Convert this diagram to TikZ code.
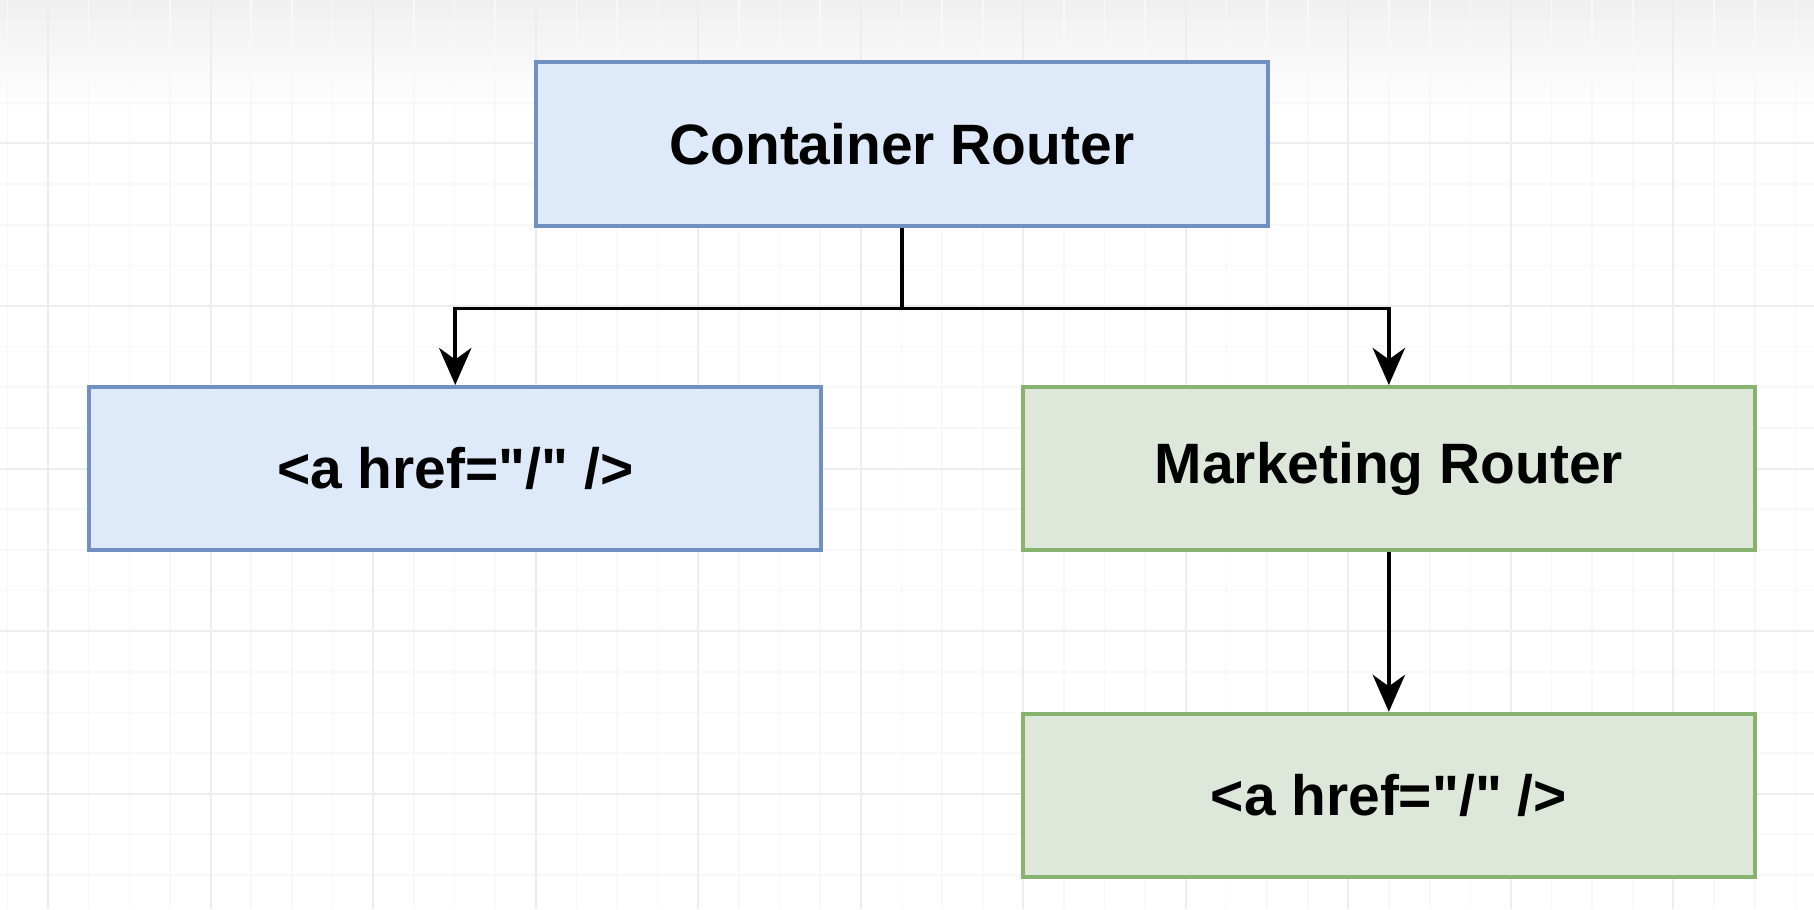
\documentclass[tikz,border=0pt]{standalone}
\usepackage{fontspec}
\setmainfont{Liberation Sans}[Ligatures=TeXOff]
\usetikzlibrary{arrows.meta,positioning}
\definecolor{blueFill}{HTML}{DEE9FA}
\definecolor{blueLine}{HTML}{7090C2}
\definecolor{greenFill}{HTML}{DDE8DA}
\definecolor{greenLine}{HTML}{88B36E}
\definecolor{gridMinor}{HTML}{F8F8F8}
\definecolor{gridMajor}{HTML}{EDEDED}
\tikzset{
  basic/.style     = {draw, rectangle, line width=1pt, inner sep=0pt,
                      minimum width=6.33cm, minimum height=1.41cm,
                      font=\fontsize{14}{16}\selectfont\bfseries},
  container/.style = {basic, fill=blueFill, draw=blueLine},
  marketing/.style = {basic, fill=greenFill, draw=greenLine},
  link/.style      = {draw, line width=0.9pt,
                      -{Stealth[length=3.2mm, width=2.8mm, inset=1mm]}}
}

\begin{document}
\begin{tikzpicture}

% canvas with the faint grid
\useasboundingbox (0,0) rectangle (15.68,-7.86);
\fill[white] (0,0) rectangle (15.68,-7.86);
\shade[top color=gray!12, bottom color=white] (0,0) rectangle (15.68,-0.95);
\foreach \i in {0,...,44}
  \draw[gridMinor, line width=0.4pt] (0.064+0.35125*\i,0) -- ++(0,-7.86);
\foreach \i in {0,...,22}
  \draw[gridMinor, line width=0.4pt] (0,-0.186-0.35125*\i) -- ++(15.68,0);
\foreach \i in {0,...,10}
  \draw[gridMajor, line width=0.5pt] (0.415+1.405*\i,0) -- ++(0,-7.86);
\foreach \i in {0,...,4}
  \draw[gridMajor, line width=0.5pt] (0,-1.24-1.405*\i) -- ++(15.68,0);

% the top router
\node[container] (root) at (7.795,-1.245) {Container Router};

% second level, placed below the root
\node[container, below=1.36cm of root, xshift=-3.86cm] (c1) {<a href="/" />};
\node[marketing, below=1.36cm of root, xshift=4.21cm] (c2) {Marketing Router};

% third level
\node[marketing, below=1.38cm of c2] (c21) {<a href="/" />};

% lines from the root to its children
\draw[line width=0.9pt] (root.south) -- ++(0,-0.7) coordinate (split);
\foreach \child in {c1,c2}
  \draw[link] (split) -| (\child.north);

\draw[link] (c2.south) -- (c21.north);
\end{tikzpicture}
\end{document}
